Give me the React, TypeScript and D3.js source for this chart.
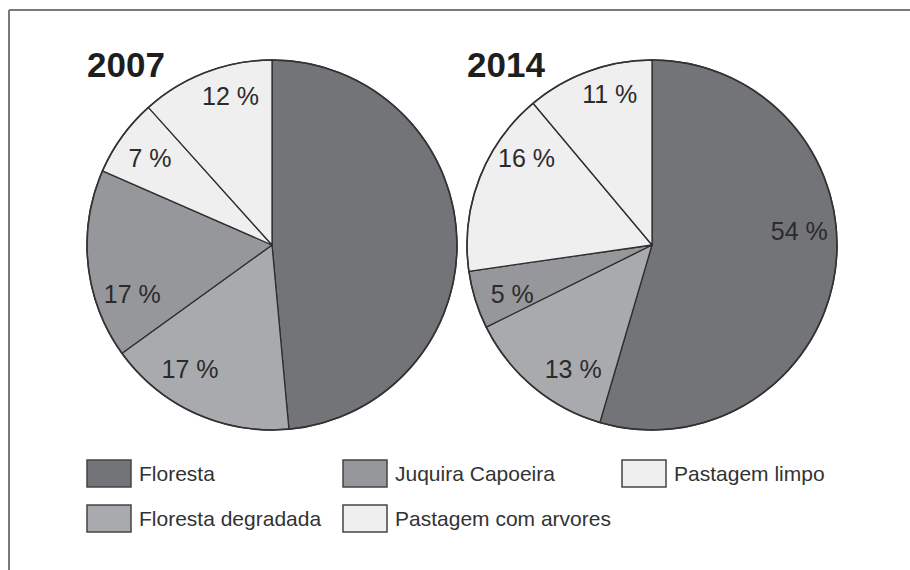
import React from "react";
import * as d3 from "d3";

const categories = ["Floresta", "Floresta degradada", "Juquira Capoeira", "Pastagem limpo", "Pastagem com arvores"];
const years = ["2007", "2014"];
const values2007 = [50, 17, 17, 7, 12];
const values2014 = [54, 13, 5, 16, 11];
const labels2007 = ["", "17 %", "17 %", "7 %", "12 %"];
const labels2014 = ["54 %", "13 %", "5 %", "16 %", "11 %"];
const colors = ["#737478", "#a9aaae", "#96979b", "#efefef", "#efefef"];
const legendOrder = [0, 2, 3, 1, 4];

// label placement: fraction along the slice's angular span, and radius
const labelT2007 = [0.5, 0.65, 0.28, 0.49, 0.63];
const labelT2014 = [0.43, 0.34, 0.39, 0.74, 0.61];
const labelR2007 = [150, 149, 148, 150, 155];
const labelR2014 = [148, 147, 148, 153, 157];

const W = 910;
const H = 570;
const R = 185;
const FONT = "'Liberation Sans', Arial, Helvetica, sans-serif";

function Pie({ cx, cy, values, labels, ts, rs, title }: any) {
  const pie = d3.pie<number>().sort(null).value((d) => d);
  const arcs = pie(values);
  const arc = d3.arc<any>().innerRadius(0).outerRadius(R);
  return (
    <g transform={`translate(${cx},${cy})`}>
      {arcs.map((a, i) => (
        <path key={i} d={arc(a) || ""} fill={colors[i]} stroke="#2e2e2e" strokeWidth={1.3} strokeLinejoin="round" />
      ))}
      <circle r={R} fill="none" stroke="#333" strokeWidth={1.6} />
      {arcs.map((a, i) => {
        if (!labels[i]) return null;
        const ang = a.startAngle + ts[i] * (a.endAngle - a.startAngle);
        const x = rs[i] * Math.sin(ang);
        const y = -rs[i] * Math.cos(ang);
        return (
          <text key={"l" + i} x={x} y={y + 9} textAnchor="middle" fontSize={25} fill="#2b2b2b" fontFamily={FONT}>
            {labels[i]}
          </text>
        );
      })}
      <text x={-R} y={-168} fontSize={35} fontWeight="bold" fill="#1e1e1e" fontFamily={FONT}>
        {title}
      </text>
    </g>
  );
}

export default function App() {
  const colX = [87, 343, 622];
  const rowY = [460, 505];
  return (
    <div style={{ position: "absolute", left: 0, top: 0 }}>
      <svg width={W} height={H} style={{ display: "block", background: "#fff" }}>
        <line x1={9} y1={10} x2={W} y2={10} stroke="#7a7a7a" strokeWidth={2} />
        <line x1={9} y1={10} x2={9} y2={H} stroke="#7a7a7a" strokeWidth={2} />
        <Pie cx={272} cy={245} values={values2007} labels={labels2007} ts={labelT2007} rs={labelR2007} title={years[0]} />
        <Pie cx={652} cy={245} values={values2014} labels={labels2014} ts={labelT2014} rs={labelR2014} title={years[1]} />
        {legendOrder.map((ci, k) => {
          const col = k % 3;
          const row = Math.floor(k / 3);
          const x = colX[col];
          const y = rowY[row];
          return (
            <g key={ci}>
              <rect x={x} y={y} width={44} height={27} fill={colors[ci]} stroke="#444" strokeWidth={1.5} />
              <text x={x + 52} y={y + 21} fontSize={21} fill="#333" fontFamily={FONT}>
                {categories[ci]}
              </text>
            </g>
          );
        })}
      </svg>
    </div>
  );
}
